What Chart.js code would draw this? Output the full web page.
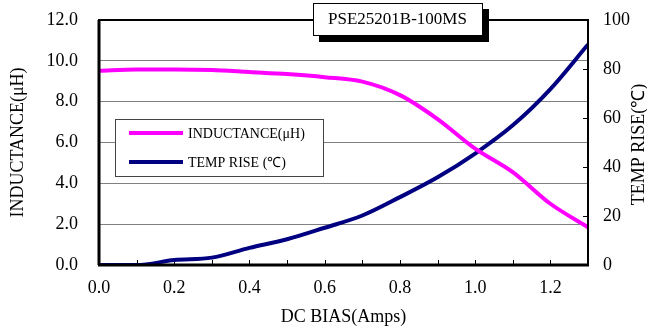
<!DOCTYPE html>
<html>
<head>
<meta charset="utf-8">
<script src="https://cdn.jsdelivr.net/npm/chart.js@4.4.1/dist/chart.umd.min.js"></script>
<style>
  html, body { margin: 0; padding: 0; background: #fff; }
  #wrap { width: 647px; height: 328px; }
</style>
</head>
<body>
<div id="wrap"><canvas id="chart" width="647" height="328"></canvas></div>
<script>
/* ---------- data ---------- */
const chartTitle = "PSE25201B-100MS";
const rightTitle = "TEMP RISE(℃)";
const biasAmps = [0, 0.1, 0.2, 0.3, 0.4, 0.5, 0.6, 0.7, 0.8, 0.9, 1.0, 1.1, 1.2, 1.3];
const inductance = [9.52, 9.58, 9.58, 9.55, 9.45, 9.35, 9.2, 8.98, 8.32, 7.15, 5.7, 4.55, 3.0, 1.85];
const tempRise = [0, 0, 2.0, 3.0, 7.0, 10.5, 15.2, 20.2, 27.7, 35.8, 45.5, 57, 71.8, 90];
const xTicks = [0, 0.1, 0.2, 0.3, 0.4, 0.5, 0.6, 0.7, 0.8, 0.9, 1.0, 1.1, 1.2, 1.3];
const rightTicks = [20, 40, 60, 80];

const serif = "'Liberation Serif', 'Times New Roman', serif";
const clear = "rgba(0,0,0,0)";

function toPoints(ys) {
  return biasAmps.map((x, i) => ({ x, y: ys[i] }));
}

/* ---------- extras: border, ticks, legend, title box ---------- */
const decorations = {
  id: "decorations",
  beforeDatasetsDraw(chart) {
    const { ctx, chartArea: a, scales } = chart;
    ctx.save();
    // inward x ticks
    ctx.strokeStyle = "#000";
    ctx.lineWidth = 1;
    xTicks.forEach(v => {
      const px = Math.round(scales.x.getPixelForValue(v)) + 0.5;
      ctx.beginPath();
      ctx.moveTo(px, a.bottom);
      ctx.lineTo(px, a.bottom - 5);
      ctx.stroke();
    });
    // inward right ticks
    rightTicks.forEach(v => {
      const py = Math.round(scales.y2.getPixelForValue(v)) + 0.5;
      ctx.beginPath();
      ctx.moveTo(a.right, py);
      ctx.lineTo(a.right - 5, py);
      ctx.stroke();
    });
    ctx.restore();
  },
  afterDraw(chart) {
    const { ctx, chartArea: a } = chart;
    ctx.save();

    // plot border
    ctx.strokeStyle = "#000";
    ctx.lineWidth = 2;
    ctx.strokeRect(a.left, a.top, a.right - a.left, a.bottom - a.top);
    ctx.lineWidth = 3;
    ctx.beginPath();
    ctx.moveTo(a.left - 1, a.bottom);
    ctx.lineTo(a.right + 1, a.bottom);
    ctx.moveTo(a.left, a.top);
    ctx.lineTo(a.left, a.bottom);
    ctx.stroke();

    // right axis title, reading bottom to top
    ctx.save();
    ctx.translate(639, (a.top + a.bottom) / 2 + 2);
    ctx.rotate(-Math.PI / 2);
    ctx.fillStyle = "#000";
    ctx.font = "18px " + serif;
    ctx.textAlign = "center";
    ctx.textBaseline = "middle";
    ctx.fillText(rightTitle, 0, 0);
    ctx.restore();

    // legend
    const lx = 115, ly = 119, lw = 208, lh = 57;
    ctx.fillStyle = "#fff";
    ctx.fillRect(lx, ly, lw, lh);
    ctx.strokeStyle = "#444";
    ctx.lineWidth = 1;
    ctx.strokeRect(lx + 0.5, ly + 0.5, lw, lh);
    ctx.font = "14px " + serif;
    ctx.textBaseline = "middle";
    ctx.textAlign = "left";
    chart.data.datasets.forEach((ds, i) => {
      const y = 133 + i * 29;
      ctx.strokeStyle = ds.borderColor;
      ctx.lineWidth = 4;
      ctx.beginPath();
      ctx.moveTo(129, y);
      ctx.lineTo(183, y);
      ctx.stroke();
      ctx.fillStyle = "#000";
      ctx.fillText(ds.label, 188, y + 1);
    });

    // title box with shadow
    const tx = 313, ty = 3, tw = 169, th = 32;
    ctx.fillStyle = "#000000";
    ctx.fillRect(tx + 6, ty + 6, tw + 1, th + 1);
    ctx.fillStyle = "#ffffff";
    ctx.fillRect(tx, ty, tw, th);
    ctx.strokeStyle = "#000";
    ctx.lineWidth = 1;
    ctx.strokeRect(tx + 0.5, ty + 0.5, tw, th);
    ctx.fillStyle = "#000";
    ctx.font = "17px " + serif;
    ctx.textAlign = "center";
    ctx.fillText(chartTitle, tx + tw / 2, ty + th / 2 + 1);

    ctx.restore();
  }
};

/* ---------- chart ---------- */
new Chart(document.getElementById("chart"), {
  type: "line",
  data: {
    datasets: [
      {
        label: "INDUCTANCE(μH)",
        data: toPoints(inductance),
        yAxisID: "y",
        borderColor: "#ff00ff",
        borderWidth: 4,
        pointRadius: 0,
        cubicInterpolationMode: "monotone"
      },
      {
        label: "TEMP RISE (℃)",
        data: toPoints(tempRise),
        yAxisID: "y2",
        borderColor: "#000080",
        borderWidth: 4,
        pointRadius: 0,
        cubicInterpolationMode: "monotone"
      }
    ]
  },
  options: {
    responsive: false,
    animation: false,
    layout: { padding: { top: 20 } },
    plugins: {
      legend: { display: false },
      tooltip: { enabled: false }
    },
    scales: {
      x: {
        type: "linear",
        min: 0,
        max: 1.3,
        afterFit: s => { s.height = 63; },
        afterBuildTicks: s => { s.ticks = xTicks.map(v => ({ value: v })); },
        grid: { drawOnChartArea: false, drawTicks: true, tickLength: 12, tickColor: clear },
        border: { display: false },
        ticks: {
          padding: 0,
          color: "#000",
          font: { family: serif, size: 18 },
          maxRotation: 0,
          autoSkip: false,
          callback: v => (Math.round(v * 10) % 2 === 0 ? v.toFixed(1) : "")
        },
        title: {
          display: true,
          text: "DC BIAS(Amps)",
          color: "#000",
          font: { family: serif, size: 18, lineHeight: 1 },
          padding: { top: 0, bottom: 2 }
        }
      },
      y: {
        position: "left",
        min: 0,
        max: 12,
        afterFit: s => { s.width = 99; },
        grid: {
          color: ctx => (ctx.tick.value === 0 || ctx.tick.value === 12 ? clear : "#808080"),
          lineWidth: 1,
          drawTicks: true,
          tickLength: 21,
          tickColor: clear
        },
        border: { display: false },
        ticks: {
          stepSize: 2,
          padding: 0,
          color: "#000",
          font: { family: serif, size: 18 },
          callback: v => v.toFixed(1)
        },
        title: {
          display: true,
          text: "INDUCTANCE(μH)",
          color: "#000",
          font: { family: serif, size: 18, lineHeight: 1 },
          padding: { top: 9, bottom: 0 }
        }
      },
      y2: {
        position: "right",
        min: 0,
        max: 100,
        afterFit: s => { s.width = 59; },
        grid: { drawOnChartArea: false, drawTicks: true, tickLength: 15, tickColor: clear },
        border: { display: false },
        ticks: {
          stepSize: 20,
          padding: 0,
          color: "#000",
          font: { family: serif, size: 18 }
        }
      }
    }
  },
  plugins: [decorations]
});
</script>
</body>
</html>
